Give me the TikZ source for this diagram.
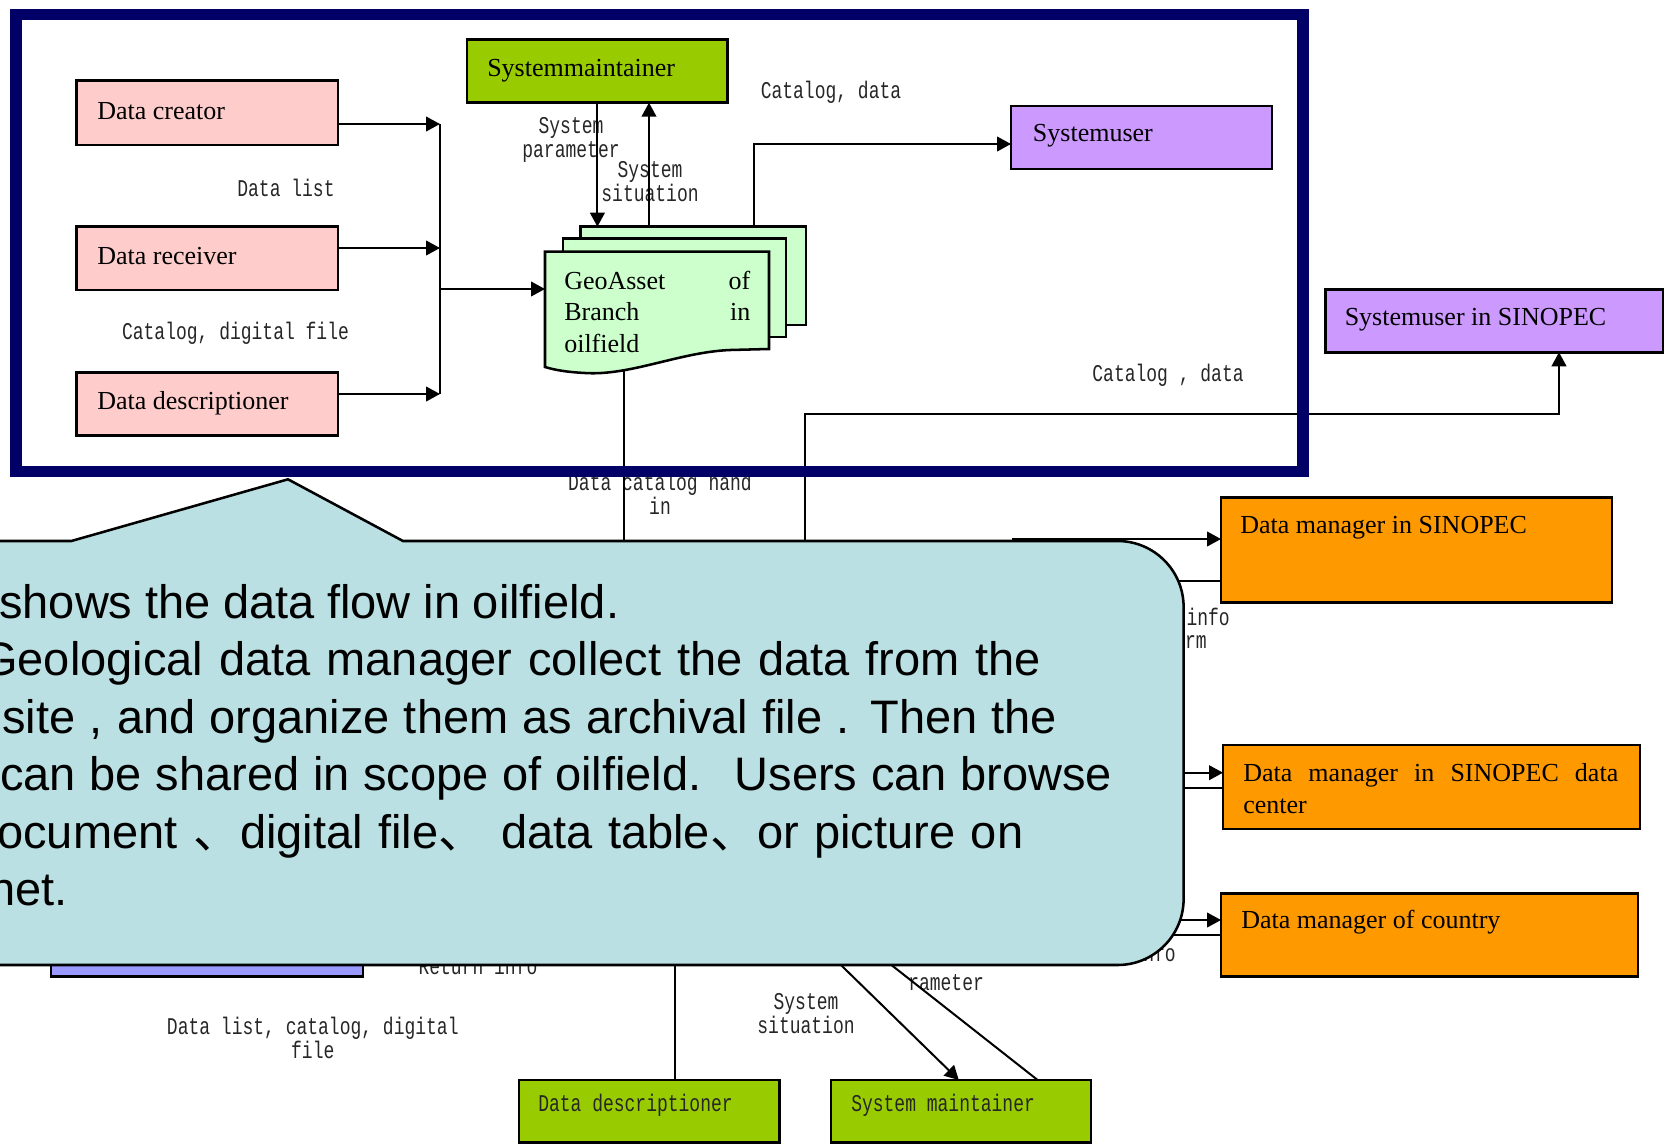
\documentclass[tikz,border=0pt]{standalone}
\usepackage{fontspec}
\setmainfont{Liberation Serif}
\newfontfamily\lblfont[FakeStretch=0.75]{Liberation Mono}
\newfontfamily\callfont{Liberation Sans}
\newfontfamily\cjk{Noto Sans CJK SC}
\usetikzlibrary{arrows.meta,fit}

\definecolor{pinkc}{HTML}{FFCCCC}
\definecolor{greenc}{HTML}{99CC00}
\definecolor{purplec}{HTML}{CC99FF}
\definecolor{bluec}{HTML}{9999FF}
\definecolor{orangec}{HTML}{FF9900}
\definecolor{docc}{HTML}{CCFFCC}
\definecolor{navyc}{HTML}{000066}
\definecolor{callc}{RGB}{187,224,227}

\begin{document}
\begin{tikzpicture}[x=0.75pt,y=-0.75pt,
  box/.style={draw=black, line width=1.9pt, inner sep=0pt, outer sep=0pt},
  doc/.style={draw=black, line width=1.9pt, fill=docc},
  btext/.style={font=\fontsize{19.5}{23.8}\selectfont, inner sep=0pt, anchor=west},
  lbl/.style={font=\fontsize{18}{18}\selectfont\lblfont, text=black!85, align=center, inner sep=0pt},
  conn/.style={line width=1.5pt},
  arr/.style={conn, -{Triangle[length=10.5pt,width=11pt]}},
  ctext/.style={font=\fontsize{35.25}{42}\selectfont\callfont, inner sep=0pt, anchor=base west}]

\useasboundingbox (0,0) rectangle (1666,1146);
\clip (0,0) rectangle (1666,1146);

% ---- flow labels (drawn first, lines pass over them)
\node[lbl] (l-dlist) at (286,188) {Data list};
\node[lbl] (l-cdf) at (235.5,333) {Catalog, digital file};
\node[lbl] (l-spar) at (571,139.5) {System\\parameter};
\node[lbl] (l-ssit) at (650,181.5) {System\\situation};
\node[lbl] (l-cd1) at (831,92.3) {Catalog, data};
\node[lbl] (l-cd2) at (1168,375) {Catalog , data};
\node[lbl] (l-hand) at (660,493.5) {Data catalog hand\\in};
\node[lbl] (l-dlcd) at (312.8,1038) {Data list, catalog, digital\\file};
\node[lbl] (l-ssit2) at (806,1014) {System\\situation};
\node[lbl, anchor=west] (l-ram) at (908,983) {rameter};
\node[lbl] (l-ret) at (478,966) {Return info};
\node[lbl, anchor=east] (l-info1) at (1230,617) {info};
\node[lbl, anchor=east] (l-rm) at (1207,642) {rm};
\node[lbl, anchor=east] (l-info2) at (1176,953) {info};

% ---- boxes
\node[box, fill=pinkc, fit={(76.5,80.7) (337.8,145)}] (creator) {};
\node[box, fill=pinkc, fit={(76.5,226.7) (337.8,290)}] (receiver) {};
\node[box, fill=pinkc, fit={(76.5,372.3) (337.8,435.7)}] (descr) {};
\node[box, fill=greenc, fit={(466.8,39.3) (727.6,102.7)}] (maint) {};
\node[box, fill=purplec, fit={(1011,106) (1271.8,169)}] (sysuser) {};
\node[box, fill=purplec, fit={(1325.4,289.3) (1663,352.3)}] (sinou) {};
\node[box, fill=orangec, fit={(1221,497.3) (1612,602.3)}] (dms) {};
\node[box, fill=orangec, fit={(1223,745) (1640,829)}] (dmc) {};
\node[box, fill=orangec, fit={(1221,893.3) (1637.8,976.7)}] (dmk) {};
\node[box, fill=greenc, fit={(518.9,1080) (779.6,1142.7)}] (bdescr) {};
\node[box, fill=greenc, fit={(831,1080) (1091,1142.7)}] (bmaint) {};
\node[box, fill=bluec, fit={(51,880) (363,976.7)}] (user) {};

% ---- junction points and free ends
\coordinate (bus1) at (440,124);
\coordinate (bus2) at (440,248);
\coordinate (bus3) at (440,394);
\coordinate (busout) at (440,289);
\coordinate (geoin) at (545,289);
\coordinate (p3par) at (597.4,226.7);
\coordinate (p3sit) at (649,226.7);
\coordinate (p3out) at (753.6,226.7);
\coordinate (geobot) at (623.5,371);
\coordinate (hand) at (623.5,620);
\coordinate (shareup) at (804.7,640);
\coordinate (sharebend) at (1559,414.3);
\coordinate (o1) at (1012,539);
\coordinate (o1r) at (1150,580.7);
\coordinate (o2) at (1150,772.7);
\coordinate (o2r) at (1150,787.7);
\coordinate (o3) at (1150,920);
\coordinate (o3r) at (1150,935);
\coordinate (dd) at (675,900);
\coordinate (sm1) at (783,908.5);
\coordinate (sm2) at (830,916.7);

% ---- connectors
\draw[arr] (creator.east |- bus1) -- (bus1);
\draw[arr] (receiver.east |- bus2) -- (bus2);
\draw[arr] (descr.east |- bus3) -- (bus3);
\draw[conn] (bus1) -- (bus3);
\draw[arr] (busout) -- (geoin);
\draw[arr] (maint.south -| p3par) -- (p3par);
\draw[arr] (p3sit) -- (maint.south -| p3sit);
\draw[arr] (p3out) |- (sysuser.west |- 0,144);
\draw[conn] (geobot) -- (hand);
\draw[arr] (shareup) -- (shareup |- sharebend) -- (sharebend) -- (sinou.south -| sharebend);
\draw[arr] (o1) -- (dms.west |- o1);
\draw[conn] (dms.west |- o1r) -- (o1r);
\draw[arr] (o2) -- (dmc.west |- o2);
\draw[conn] (dmc.west |- o2r) -- (o2r);
\draw[arr] (o3) -- (dmk.west |- o3);
\draw[conn] (dmk.west |- o3r) -- (o3r);
\draw[conn] (dd) -- (bdescr.north -| dd);
\draw[arr] (sm1) -- (bmaint.north -| 958.8,0);
\draw[conn] (sm2) -- (bmaint.north -| 1037.6,0);

% ---- stacked document
\draw[doc] (580.6,226.7) rectangle (806,325);
\draw[doc] (563,238.7) rectangle (786,337);
\draw[doc] (545,251.7) -- (769,251.7) -- (769,349) -- (730,350)
  .. controls (680,352) and (630,376) .. (585,373)
  .. controls (566,372) and (555,370) .. (545,367) -- cycle;

% ---- box texts
\node[btext] (creator-t) at (97,111) {Data creator};
\node[btext] (receiver-t) at (97,256) {Data receiver};
\node[btext] (descr-t) at (97,403) {Data descriptioner};
\node[btext] (maint-t) at (487,71) {Systemmaintainer};
\node[btext] (sysuser-t) at (1032.7,136) {Systemuser};
\node[btext] (sinou-t) at (1344.5,320) {Systemuser in SINOPEC};
\node[btext] (dms-t) at (1240,528) {Data manager in SINOPEC};
\node[btext] (dmc-t1) at (1243,775) {\makebox[281.25pt][s]{Data manager in SINOPEC data}};
\node[btext] (dmc-t2) at (1243,806) {center};
\node[btext] (dmk-t) at (1241,921.7) {Data manager of country};
\node[btext] (geo-t1) at (564,280) {\makebox[139.5pt][s]{GeoAsset of}};
\node[btext] (geo-t2) at (564,311.7) {\makebox[139.5pt][s]{Branch in}};
\node[btext] (geo-t3) at (564,343.3) {oilfield};
\node[lbl, anchor=west] (bdescr-t) at (538,1105) {Data descriptioner};
\node[lbl, anchor=west] (bmaint-t) at (851,1105) {System maintainer};

% ---- oilfield frame
\draw[line width=8.6pt, draw=navyc] (16,14.5) rectangle (1303,471.5);

% ---- callout
\draw[line width=1.9pt, fill=callc] (-60,541) -- (71.4,541) -- (288,479.3) -- (403,541)
  -- (1117.6,541) arc[start angle=90, end angle=0, radius=49.5pt]
  -- (1183.6,899) arc[start angle=0, end angle=-90, radius=49.5pt]
  -- (-60,965) -- cycle;

\node[ctext] (ct1) at (-1,618) {\makebox[465pt][s]{shows the data flow in oilfield.}};
\node[ctext] (ct2) at (-19,675) {\makebox[795pt][s]{Geological data manager collect the data from the}};
\node[ctext] (ct3) at (2,733) {\makebox[791.25pt][s]{site , and organize them as archival file . Then the}};
\node[ctext] (ct4) at (0,790) {\makebox[834pt][s]{can be shared in scope of oilfield. \ Users can browse}};
\node[ctext] (ct5) at (-3,848) {\makebox[769.5pt][s]{ocument {\cjk 、}digital file{\cjk 、} data table{\cjk 、}or picture on}};
\node[ctext] (ct6) at (-11,905) {net.};
\end{tikzpicture}
\end{document}
